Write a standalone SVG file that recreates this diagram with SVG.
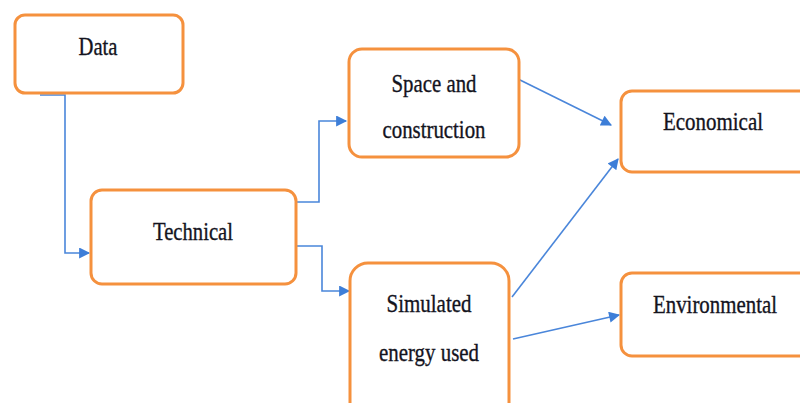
<svg xmlns="http://www.w3.org/2000/svg" width="800" height="403" viewBox="0 0 800 403">
  <style>
    .box { fill: #ffffff; stroke: #F5913E; stroke-width: 3; }
    .lbl { font-family: "Liberation Serif", "DejaVu Serif", serif; font-size: 26px; fill: #14141e; stroke: #14141e; stroke-width: 0.35; text-anchor: middle; }
    .link { fill: none; stroke: #4A86DA; stroke-width: 1.6; }
  </style>
  <defs>
    <marker id="arrowL" viewBox="0 0 10 10" refX="9" refY="5" markerWidth="12" markerHeight="11" markerUnits="userSpaceOnUse" orient="auto">
      <path d="M0,0 L10,5 L0,10 z" fill="#3D7ED8"/>
    </marker>
  </defs>
  <rect width="800" height="403" fill="#ffffff"/>

  <!-- connectors -->
  <g id="connectors">
    <path class="link" d="M40,95 H65 V253 H89" marker-end="url(#arrowL)"/>
    <path class="link" d="M296,202 H319 V121 H346" marker-end="url(#arrowL)"/>
    <path class="link" d="M296,246 H322 V291 H349" marker-end="url(#arrowL)"/>
    <path class="link" d="M518,79 L611,125" marker-end="url(#arrowL)"/>
    <path class="link" d="M512,297 L618,159" marker-end="url(#arrowL)"/>
    <path class="link" d="M513,339 L619,315" marker-end="url(#arrowL)"/>
  </g>

  <!-- nodes -->
  <g id="data">
    <rect class="box" x="15" y="15" width="168" height="78" rx="10"/>
    <text class="lbl" x="98" y="55" textLength="39" lengthAdjust="spacingAndGlyphs">Data</text>
  </g>
  <g id="technical">
    <rect class="box" x="91" y="190" width="205" height="94" rx="11"/>
    <text class="lbl" x="193" y="240" textLength="80" lengthAdjust="spacingAndGlyphs">Technical</text>
  </g>
  <g id="space">
    <rect class="box" x="349" y="49" width="170" height="108" rx="13"/>
    <text class="lbl" x="434" y="92" textLength="85" lengthAdjust="spacingAndGlyphs">Space and</text>
    <text class="lbl" x="434" y="138" textLength="103" lengthAdjust="spacingAndGlyphs">construction</text>
  </g>
  <g id="simulated">
    <rect class="box" x="350" y="263" width="159" height="160" rx="18"/>
    <text class="lbl" x="429" y="312" textLength="85" lengthAdjust="spacingAndGlyphs">Simulated</text>
    <text class="lbl" x="429" y="361" textLength="100" lengthAdjust="spacingAndGlyphs">energy used</text>
  </g>
  <g id="economical">
    <rect class="box" x="621" y="91" width="200" height="81" rx="11"/>
    <text class="lbl" x="713" y="130" textLength="100" lengthAdjust="spacingAndGlyphs">Economical</text>
  </g>
  <g id="environmental">
    <rect class="box" x="621" y="273" width="200" height="83" rx="11"/>
    <text class="lbl" x="715" y="313" font-size="24" textLength="124" lengthAdjust="spacingAndGlyphs">Environmental</text>
  </g>
</svg>
